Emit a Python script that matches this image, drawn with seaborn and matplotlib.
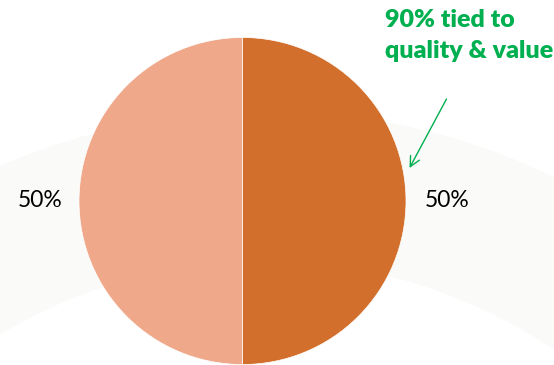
import matplotlib
matplotlib.use("Agg")
import matplotlib.pyplot as plt
import seaborn as sns
from matplotlib.patches import Wedge

sns.set_theme(style="white")
plt.rcParams['font.family'] = ['Lato', 'DejaVu Sans']

# data
labels = ["Tied to quality & value", "Other"]
values = [50, 50]
colors = ["#D26F2C", "#F0A88A"]
pct_labels = ["50%", "50%"]
note = "90% tied to\nquality & value"

W, H = 554, 365
fig = plt.figure(figsize=(W / 100, H / 100), dpi=100)
fig.patch.set_facecolor("white")

# faint background ring
bg = fig.add_axes([0, 0, 1, 1])
bg.set_xlim(0, W)
bg.set_ylim(H, 0)
bg.axis("off")
bg.add_patch(Wedge((265, 776), 665, 180, 360, width=150, facecolor="#FAFAF9", edgecolor="none"))

# pie axes: center (242.5, 201), radius 163.5 px
cx, cy, r = 242.5, 201.0, 163.5
ax = fig.add_axes([(cx - r) / W, (H - cy - r) / H, 2 * r / W, 2 * r / H])
ax.pie(values, colors=colors, startangle=90, counterclock=False,
       wedgeprops=dict(edgecolor="white", linewidth=0.5))
ax.set_xlim(-1, 1)
ax.set_ylim(-1, 1)
ax.set_aspect("equal")
ax.axis("off")
for p in ax.patches:
    p.set_clip_on(False)

# percent labels
ax.text(1.25, 0.0, pct_labels[0], ha="center", va="center", fontsize=16.5, color="black")
ax.text(-1.24, 0.0, pct_labels[1], ha="center", va="center", fontsize=16.5, color="black")

# annotation
green = "#00B050"
bg.text(385, 9, note, ha="left", va="top", fontsize=18, fontweight="heavy",
        color=green, linespacing=1.5)
bg.annotate("", xy=(409.5, 168), xytext=(446.5, 99),
            arrowprops=dict(arrowstyle="->", color=green, lw=1.0,
                            mutation_scale=18, shrinkA=0, shrinkB=0))

fig.savefig("out.png", dpi=100)
